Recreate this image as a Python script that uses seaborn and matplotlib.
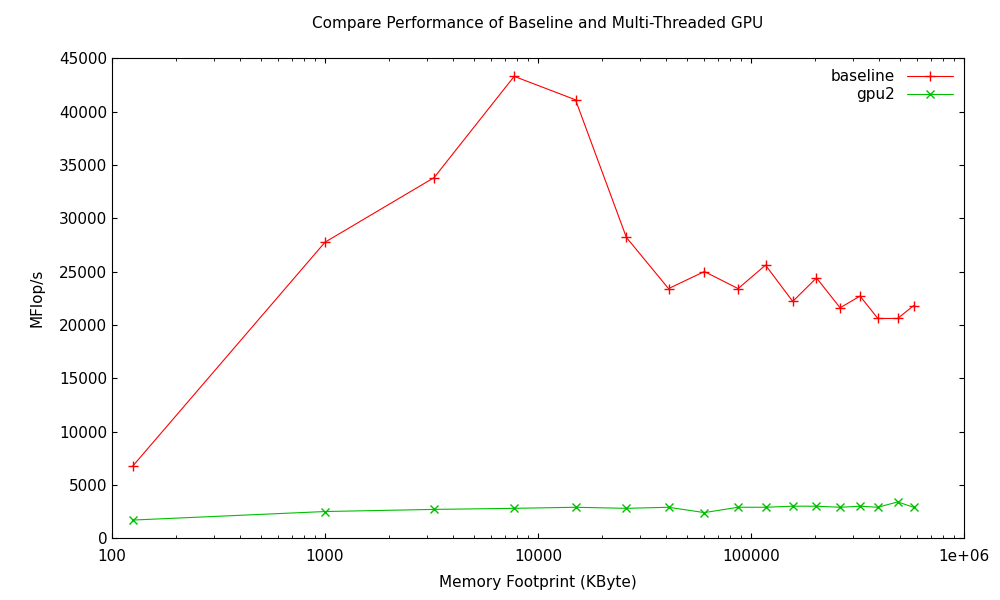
import matplotlib
matplotlib.use("Agg")
import matplotlib.pyplot as plt
import seaborn as sns
import pandas as pd

mem_kb = [125, 1000, 3250, 7730, 15000, 26000, 41000, 60400, 87000, 117000,
          157000, 203000, 262000, 325000, 394000, 488000, 580000]
baseline = [6750, 27750, 33800, 43300, 41100, 28200, 23400, 25000, 23400, 25600,
            22200, 24400, 21600, 22700, 20600, 20600, 21800]
gpu2 = [1700, 2500, 2700, 2800, 2900, 2800, 2900, 2400, 2900, 2900,
        3000, 3000, 2900, 3000, 2900, 3400, 2900]

df = pd.DataFrame({"mem": mem_kb, "baseline": baseline, "gpu2": gpu2})

sns.set_style("ticks")
plt.rcParams['font.family'] = ['DejaVu Sans']
plt.rcParams['text.color'] = 'black'
plt.rcParams['axes.labelcolor'] = 'black'
plt.rcParams['xtick.color'] = 'black'
plt.rcParams['ytick.color'] = 'black'
fig = plt.figure(figsize=(10, 6), dpi=100)
ax = fig.add_axes([0.112, 0.103, 0.852, 0.8])

sns.lineplot(data=df, x="mem", y="baseline", ax=ax, color="#ff0000", marker="+",
             markersize=7, markeredgewidth=1, markeredgecolor="#ff0000",
             linewidth=0.8, label="baseline")
sns.lineplot(data=df, x="mem", y="gpu2", ax=ax, color="#00c000", marker="x",
             markersize=6, markeredgewidth=1, markeredgecolor="#00c000",
             linewidth=0.8, label="gpu2")

ax.set_xscale("log")
ax.set_xlim(100, 1e6)
ax.set_ylim(0, 45000)
ax.set_xticks([100, 1000, 10000, 100000, 1000000])
ax.set_xticklabels(["100", "1000", "10000", "100000", "1e+06"])
ax.set_yticks(range(0, 45001, 5000))
ax.tick_params(which="both", direction="in", top=True, right=True, labelsize=11, colors="black")
ax.tick_params(axis="x", pad=8)
for s in ax.spines.values():
    s.set_visible(True)
    s.set_linewidth(0.8)
    s.set_color("black")
ax.set_xlabel("Memory Footprint (KByte)", fontsize=11, labelpad=8)
ax.set_ylabel("MFlop/s", fontsize=11, labelpad=10)
ax.set_title("Compare Performance of Baseline and Multi-Threaded GPU", fontsize=11, pad=22)
ax.legend(loc="upper right", frameon=False, markerfirst=False, fontsize=11,
          handlelength=3, borderaxespad=0.3, labelspacing=0.2)

fig.savefig("out.png", dpi=100)
